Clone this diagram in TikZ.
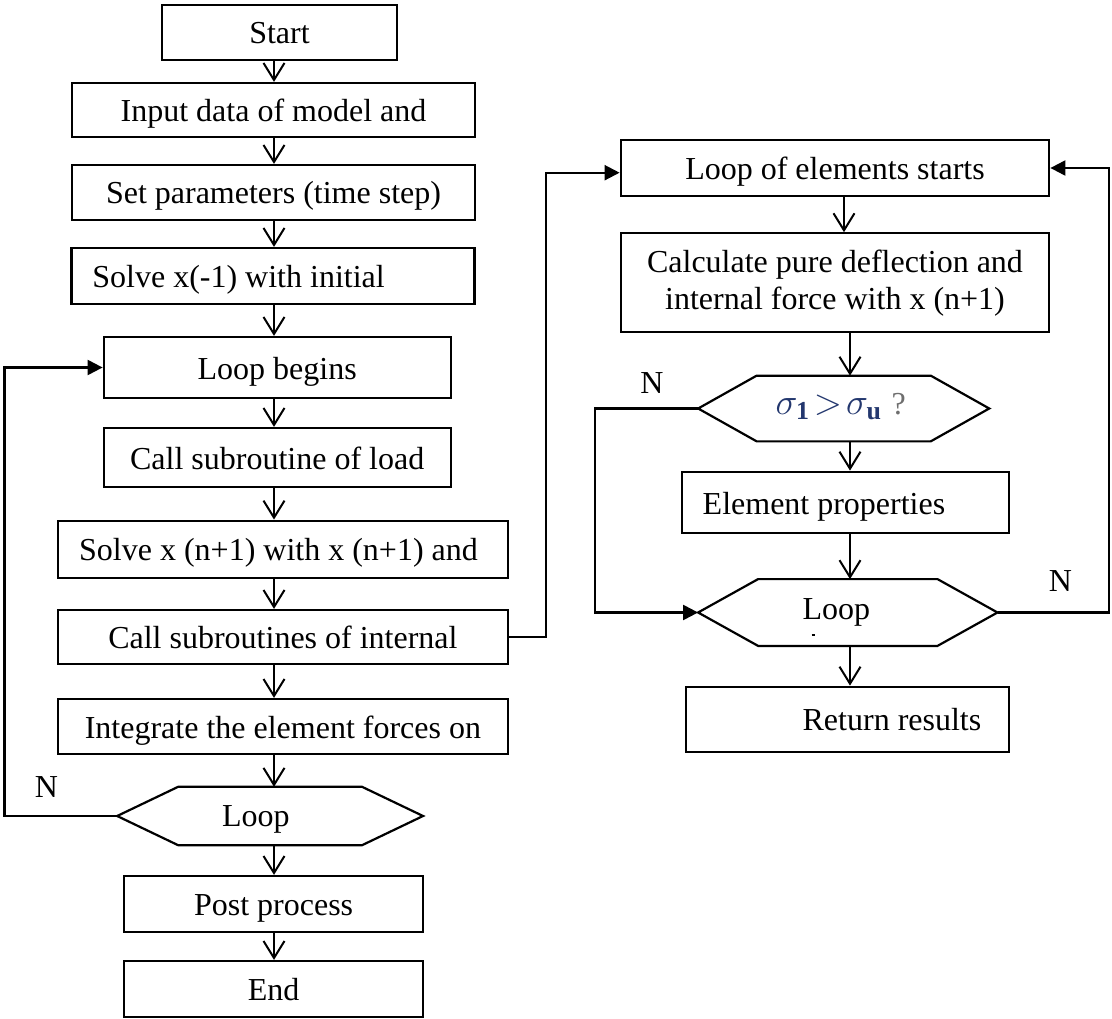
\documentclass[tikz,border=0pt]{standalone}
\usepackage{fix-cm}
\usepackage{fontspec}
\setmainfont{Liberation Serif}
\usetikzlibrary{arrows.meta,calc}
\definecolor{sigblue}{RGB}{35,55,110}
\definecolor{qgray}{RGB}{110,110,110}
\tikzset{
 boxbase/.style={draw, line width=2.2pt, inner sep=0pt, font=\fontsize{32}{37}\selectfont},
 box/.style={boxbase, text height=29pt, text depth=6pt},
 hexframe/.style={inner sep=0pt},
 hexline/.style={line width=2.2pt, line join=miter},
 lbl/.style={inner sep=0pt, font=\fontsize{32}{37}\selectfont},
 varrow/.style={line width=2pt, -{Straight Barb[length=17pt,width=21pt]}},
 harrow/.style={line width=2.2pt, -{Triangle[length=15pt,width=15pt]}},
}
\begin{document}
\begin{tikzpicture}[x=1pt,y=-1pt]
\useasboundingbox (0,0) rectangle (1112,1019);
\coordinate (axL) at (274,0);
\coordinate (axRa) at (844,0);
\coordinate (axR) at (850,0);

% ---------- left column ----------
\node[box, minimum width=235pt, minimum height=55pt] (start) at (279.5,32.5) {Start};
\node[box, minimum width=403pt, minimum height=54pt] (input) at (273.5,110) {Input data of model and};
\node[box, minimum width=403pt, minimum height=55pt] (setp) at (273.5,192.5) {Set parameters (time step)};
\node[box, minimum height=56pt] (solvea) at (272.9,276) {\makebox[403pt][l]{\hspace*{21pt}Solve x(-1) with initial}};
\node[box, minimum width=347pt, minimum height=61pt] (loopbeg) at (277.2,367.5) {Loop begins};
\node[box, minimum width=347pt, minimum height=59pt] (callload) at (277.2,457.5) {Call subroutine of load};
\node[box, minimum width=449.4pt, minimum height=57.3pt] (solveb) at (282.9,549.3) {\makebox[449.4pt][l]{\hspace*{21pt}Solve x (n+1) with x (n+1) and}};
\node[box, minimum width=449.4pt, minimum height=54pt] (callint) at (282.9,637) {Call subroutines of internal};
\node[box, minimum width=449.4pt, minimum height=55pt] (integ) at (282.9,726.5) {Integrate the element forces on};
\node[hexframe, minimum width=305.5pt, minimum height=58pt] (loopa) at (270.1,816) {};
\draw[hexline] (loopa.west) -- ([xshift=61pt]loopa.north west) -- ([xshift=-61pt]loopa.north east) -- (loopa.east) -- ([xshift=-61pt]loopa.south east) -- ([xshift=61pt]loopa.south west) -- cycle;
\node[lbl, anchor=base] (loopat) at (255.8,826.7) {Loop};
\node[box, minimum width=299.2pt, minimum height=56pt] (post) at (273.6,904) {Post process};
\node[box, minimum width=299.2pt, minimum height=56pt] (endn) at (273.6,989) {End};
\node[lbl, anchor=base] (na) at (46.5,797) {N};

% ---------- right column ----------
\node[box, minimum width=428.6pt, minimum height=56pt] (elstart) at (835,168) {Loop of elements starts};
\node[boxbase, align=center, minimum width=428.6pt, minimum height=99pt] (calc) at (835,282.8) {Calculate pure deflection and\\internal force with x (n+1)};
\node[hexframe, minimum width=290.7pt, minimum height=65.3pt] (sig) at (843.7,408.5) {};
\draw[hexline] (sig.west) -- ([xshift=58.5pt]sig.north west) -- ([xshift=-58.5pt]sig.north east) -- (sig.east) -- ([xshift=-58.5pt]sig.south east) -- ([xshift=58.5pt]sig.south west) -- cycle;
\node[lbl, anchor=base, font=\fontsize{37}{40}\selectfont] (sigt) at (840.7,414) {\thickmuskip=2mu\textcolor{sigblue}{$\sigma_{\mathbf{1}}>\sigma_{\mathbf{u}}$}\hspace{10pt}\textcolor{qgray}{\fontsize{32}{37}\selectfont ?}};
\node[lbl, anchor=base] (nb) at (652,393) {N};
\node[box, minimum height=61.6pt] (elem) at (845.2,502.5) {\makebox[327pt][l]{\hspace*{21pt}Element properties}};
\node[hexframe, minimum width=299pt, minimum height=66.4pt] (loopb) at (847.8,612.5) {};
\draw[hexline] (loopb.west) -- ([xshift=60pt]loopb.north west) -- ([xshift=-60pt]loopb.north east) -- (loopb.east) -- ([xshift=-60pt]loopb.south east) -- ([xshift=60pt]loopb.south west) -- cycle;
\node[lbl, anchor=base] (loopbt) at (836.3,619.3) {Loop};
\draw[line width=1.2pt] (811.5,635) -- (814.5,635);
\node[lbl, anchor=base] (nc) at (1060.5,591.7) {N};
\node[box, minimum height=65pt] (ret) at (847.3,719.2) {\makebox[322.7pt][l]{\hspace*{116.7pt}Return results}};

% ---------- vertical arrows ----------
\draw[varrow] (start.south -| axL) -- (input.north -| axL);
\draw[varrow] (input.south -| axL) -- (setp.north -| axL);
\draw[varrow] (setp.south -| axL) -- (solvea.north -| axL);
\draw[varrow] (solvea.south -| axL) -- (loopbeg.north -| axL);
\draw[varrow] (loopbeg.south -| axL) -- (callload.north -| axL);
\draw[varrow] (callload.south -| axL) -- (solveb.north -| axL);
\draw[varrow] (solveb.south -| axL) -- (callint.north -| axL);
\draw[varrow] (callint.south -| axL) -- (integ.north -| axL);
\draw[varrow] (integ.south -| axL) -- (loopa.north -| axL);
\draw[varrow] (loopa.south -| axL) -- (post.north -| axL);
\draw[varrow] (post.south -| axL) -- (endn.north -| axL);

\draw[varrow] (elstart.south -| axRa) -- (calc.north -| axRa);
\draw[varrow] (calc.south -| axR) -- (sig.north -| axR);
\draw[varrow] (sig.south -| axR) -- (elem.north -| axR);
\draw[varrow] (elem.south -| axR) -- (loopb.north -| axR);
\draw[varrow] (loopb.south -| axR) -- (ret.north -| axR);

% ---------- loop connectors ----------
\draw[harrow] (loopa.west) -- ++(-112.6,0) |- (loopbeg.west);
\draw[harrow] (callint.east) -- ++(37.4,0) |- ([yshift=-4.7pt]elstart.west);
\draw[harrow] (sig.west) -- ++(-103.3,0) |- (loopb.west);
\draw[harrow] (loopb.east) -- ++(111.7,0) |- (elstart.east);
\end{tikzpicture}
\end{document}
